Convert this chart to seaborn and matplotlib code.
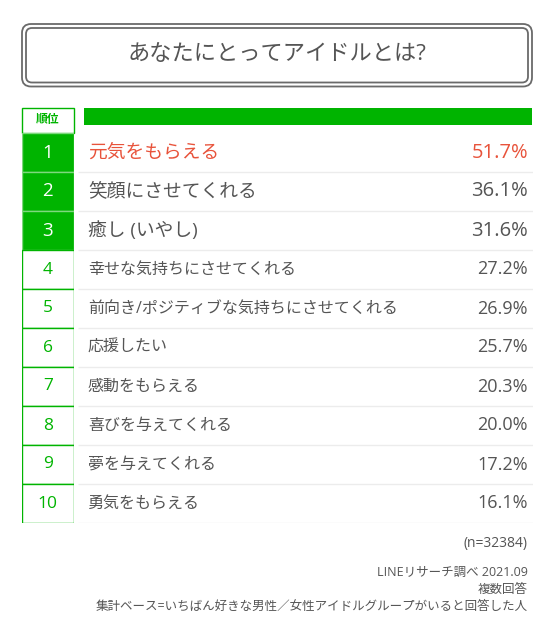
import matplotlib
matplotlib.use("Agg")
import matplotlib.pyplot as plt
from matplotlib.patches import FancyBboxPatch, Rectangle
import pandas as pd
import seaborn as sns

# data
ranks = ["1", "2", "3", "4", "5", "6", "7", "8", "9", "10"]
labels = [
    "元気をもらえる", "笑顔にさせてくれる", "癒し (いやし)", "幸せな気持ちにさせてくれる",
    "前向き/ポジティブな気持ちにさせてくれる", "応援したい", "感動をもらえる",
    "喜びを与えてくれる", "夢を与えてくれる", "勇気をもらえる",
]
values = [51.7, 36.1, 31.6, 27.2, 26.9, 25.7, 20.3, 20.0, 17.2, 16.1]
title = "あなたにとってアイドルとは?"
header = "順位"
notes = ["(n=32384)", "LINEリサーチ調べ 2021.09", "複数回答",
         "集計ベース=いちばん好きな男性／女性アイドルグループがいると回答した人"]

GREEN = "#00b400"
RED = "#e8533b"
GRAY = "#555555"

sns.set_theme(style="white")
plt.rcParams["font.family"] = ["Open Sans", "Noto Sans CJK JP", "DejaVu Sans"]

W, H = 555, 640
fig = plt.figure(figsize=(W / 100, H / 100), dpi=100)

# background axes in pixel units
bg = fig.add_axes([0, 0, 1, 1])
bg.set_xlim(0, W)
bg.set_ylim(H, 0)
bg.axis("off")

# title box (double border)
bg.add_patch(FancyBboxPatch((22, 24), 510, 62.5, boxstyle="round,pad=0,rounding_size=9",
                            fc="white", ec="#6a6a6a", lw=1.3))
bg.add_patch(FancyBboxPatch((26, 28), 502, 54.5, boxstyle="round,pad=0,rounding_size=6",
                            fc="none", ec="#6a6a6a", lw=1.3))
bg.text(277, 55, title, ha="center", va="center", fontsize=16, color=GRAY)

# header row
bg.add_patch(Rectangle((21.5, 108), 52.5, 25, fc="white", ec=GREEN, lw=1))
bg.text(47.5, 120, header, ha="center", va="center", fontsize=8.5,
        fontweight="bold", color=GREEN)
bg.add_patch(Rectangle((84, 108), 448, 17, fc=GREEN, ec="none"))

# rank column
df = pd.DataFrame({"rank": ranks, "cell": [1] * len(ranks)})
fills = {r: (GREEN if i < 3 else "white") for i, r in enumerate(ranks)}
ax_r = fig.add_axes([21.5 / W, 1 - 523 / H, 52.5 / W, 390 / H])
sns.barplot(data=df, x="cell", y="rank", hue="rank", palette=fills, order=ranks,
            hue_order=ranks, orient="h", width=1.0, saturation=1, legend=False, ax=ax_r)
for i, p in enumerate(ax_r.patches):
    p.set_edgecolor("#7ed87e" if i < 3 else GREEN)
    p.set_linewidth(1)
    p.set_zorder(3 if i >= 3 else 2)
ax_r.set_xlim(0, 1)
ax_r.set_ylim(len(ranks) - 0.5, -0.5)
ax_r.axis("off")
for i, r in enumerate(ranks):
    top = i < 3
    ax_r.text(0.5, i, r, ha="center", va="center", zorder=5,
              fontsize=13.5 if top else 12.5, color="white" if top else GREEN)

# label / value area
ax_t = fig.add_axes([78 / W, 1 - 523 / H, 455 / W, 390 / H])
ax_t.set_xlim(0, 455)
ax_t.set_ylim(len(ranks) - 0.5, -0.5)
ax_t.axis("off")
ax_t.hlines([i + 0.5 for i in range(len(ranks))], 0, 455, color="#ececec", lw=1)
for i, (lab, v) in enumerate(zip(labels, values)):
    top = i < 3
    col = RED if i == 0 else GRAY
    ax_t.text(10, i, lab, ha="left", va="center",
              fontsize=13.5 if top else 11.5, color=col)
    ax_t.text(450, i, f"{v:.1f}%", ha="right", va="center",
              fontsize=14.5 if top else 13, color=col)

# footnotes
bg.text(528, 543, notes[0], ha="right", va="center", fontsize=10, color=GRAY)
for y, t in zip([572, 589, 606], notes[1:]):
    bg.text(528, y, t, ha="right", va="center", fontsize=9, color=GRAY)

fig.savefig("out.png", dpi=100, facecolor="white")
